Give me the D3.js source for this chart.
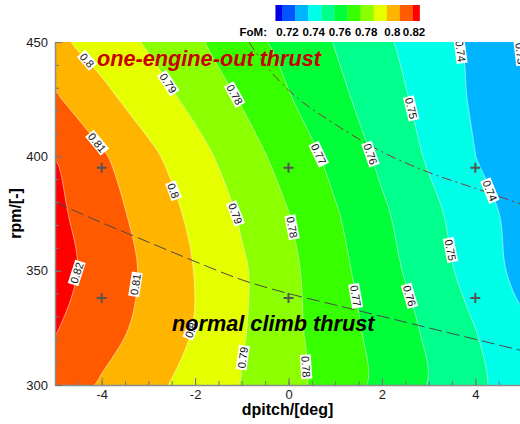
<!DOCTYPE html>
<html>
<head>
<meta charset="utf-8">
<script src="https://cdn.jsdelivr.net/npm/d3@7"></script>
<style>
  html, body { margin: 0; padding: 0; background: #fff; }
  svg { display: block; font-family: "Liberation Sans", Arial, Helvetica, sans-serif; }
</style>
</head>
<body>
<svg id="chart" width="520" height="424"></svg>
<script>
// grid of the FoM field (rows = rpm, columns = dpitch)
const dpitch = [-5, -4, -3, -2, -1, 0, 1, 2, 3, 4, 5];
const rpm = [300, 325, 350, 375, 400, 425, 450];
const fom = [
  [0.8153, 0.8090, 0.8028, 0.7962, 0.7895, 0.7830, 0.7755, 0.7674, 0.7596, 0.7520, 0.7445],
  [0.8206, 0.8140, 0.8071, 0.7995, 0.7909, 0.7826, 0.7745, 0.7664, 0.7583, 0.7500, 0.7417],
  [0.8237, 0.8160, 0.8082, 0.7997, 0.7913, 0.7823, 0.7732, 0.7639, 0.7549, 0.7460, 0.7369],
  [0.8222, 0.8143, 0.8062, 0.7976, 0.7888, 0.7802, 0.7709, 0.7616, 0.7527, 0.7443, 0.7359],
  [0.8198, 0.8112, 0.8023, 0.7935, 0.7847, 0.7759, 0.7671, 0.7579, 0.7489, 0.7401, 0.7312],
  [0.8112, 0.8028, 0.7950, 0.7873, 0.7792, 0.7707, 0.7628, 0.7547, 0.7466, 0.7386, 0.7306],
  [0.8023, 0.7956, 0.7888, 0.7816, 0.7741, 0.7667, 0.7595, 0.7518, 0.7448, 0.7375, 0.7295]
];

const levels = [0.72, 0.73, 0.74, 0.75, 0.76, 0.77, 0.78, 0.79, 0.80, 0.81, 0.82];
const bandColors = ['#0000e6', '#0055ff', '#00b4ff', '#00ffe8', '#00ff8c', '#00ff38',
                    '#38ff00', '#8cff00', '#e6ff00', '#ffb400', '#ff5a00', '#ff0000'];
const legendTicks = [0.72, 0.74, 0.76, 0.78, 0.80, 0.82];

const xTicks = [-4, -2, 0, 2, 4];
const yTicks = [300, 350, 400, 450];

// design points (+)
const designDpitch = [-4, 0, 4, -4, 0, 4];
const designRpm = [395, 395, 395, 338, 338, 338];

// thrust lines
const climbDpitch = [-5, -4, -3, -2, -1, 0, 1, 2, 3, 4, 5];
const climbRpm = [380, 371, 362.5, 354, 346, 340, 335, 330, 325, 320, 315];
const engineOutDpitch = [-0.85, -0.5, 0, 1, 2, 3, 4, 5];
const engineOutRpm = [450, 440, 429, 414, 402, 393, 386, 379];

// contour labels: level and the rpm where the label sits on that contour
const labelLevels = [0.80, 0.79, 0.78, 0.81, 0.77, 0.76, 0.75, 0.74, 0.73,
                     0.80, 0.79, 0.78, 0.77, 0.76, 0.75, 0.74, 0.82, 0.81,
                     0.80, 0.79, 0.78];
const labelRpm = [442, 432, 427, 406, 401, 401, 421, 446, 445,
                  385, 375, 369, 339, 339, 359, 385, 349, 344,
                  324, 312, 308];

const svg = d3.select('#chart');
const plot = { left: 55, right: 522, top: 42, bottom: 385 };

const x = d3.scaleLinear().domain([-5, 5]).range([plot.left, plot.right]);
const y = d3.scaleLinear().domain([300, 450]).range([plot.bottom, plot.top]);

svg.append('defs').append('clipPath').attr('id', 'plotClip')
  .append('rect')
  .attr('x', plot.left).attr('y', plot.top)
  .attr('width', plot.right - plot.left).attr('height', plot.bottom - plot.top);

// contours
const nx = dpitch.length;
const ny = rpm.length;
const values = fom.flat();
const stepX = dpitch[1] - dpitch[0];
const stepY = rpm[1] - rpm[0];

// d3.contours puts sample i at grid coordinate i + 0.5
const toPx = ([cx, cy]) => [x(dpitch[0] + (cx - 0.5) * stepX), y(rpm[0] + (cy - 0.5) * stepY)];

const thresholds = [d3.min(values)].concat(levels);
const contours = d3.contours().size([nx, ny]).thresholds(thresholds)(values);

// smooth the marching-squares rings a little
const ringLine = d3.line().curve(d3.curveCatmullRomClosed.alpha(0.5));
const polyPath = (mp) => mp.coordinates
  .map((poly) => poly.map((ring) => ringLine(ring.slice(0, -1).map(toPx))).join(''))
  .join('');

const gPlot = svg.append('g').attr('clip-path', 'url(#plotClip)');

gPlot.selectAll('path.band')
  .data(contours)
  .join('path')
  .attr('class', 'band')
  .attr('d', polyPath)
  .attr('fill', (d, i) => bandColors[i])
  .attr('fill-rule', 'evenodd')
  .attr('stroke', (d, i) => (i === 0 ? 'none' : 'rgba(255,255,255,0.6)'))
  .attr('stroke-width', 0.8);

// thrust lines
const curve = d3.line()
  .x((d) => x(d[0]))
  .y((d) => y(d[1]))
  .curve(d3.curveMonotoneX);

gPlot.append('path')
  .datum(d3.zip(climbDpitch, climbRpm))
  .attr('d', curve)
  .attr('fill', 'none')
  .attr('stroke', '#4a4a4a')
  .attr('stroke-width', 1)
  .attr('stroke-dasharray', '13,5');

gPlot.append('path')
  .datum(d3.zip(engineOutDpitch, engineOutRpm))
  .attr('d', curve)
  .attr('fill', 'none')
  .attr('stroke', '#8a3a3a')
  .attr('stroke-width', 1)
  .attr('stroke-dasharray', '10,4,2,4');

// design points
gPlot.selectAll('path.pt')
  .data(d3.zip(designDpitch, designRpm))
  .join('path')
  .attr('class', 'pt')
  .attr('transform', (d) => `translate(${x(d[0])},${y(d[1])})`)
  .attr('d', 'M-5,0H5M0,-5V5')
  .attr('stroke', '#555')
  .attr('stroke-width', 2);

// contour labels
const fmt = (v) => String(+v.toFixed(2));

const findLabel = (level, r) => {
  const c = contours.find((d) => Math.abs(d.value - level) < 1e-9);
  if (!c) return null;
  const py = y(r);
  let best = null;
  c.coordinates.forEach((poly) => poly.forEach((ring) => {
    const pts = ring.map(toPx);
    for (let i = 1; i < pts.length; i++) {
      const [x0, y0] = pts[i - 1];
      const [x1, y1] = pts[i];
      if (y0 === y1 || (y0 - py) * (y1 - py) > 0) continue;
      const t = (py - y0) / (y1 - y0);
      const px = x0 + t * (x1 - x0);
      if (px < plot.left + 1 || px > plot.right + 6) continue;
      let a = Math.atan2(y1 - y0, x1 - x0) * 180 / Math.PI;
      if (a > 90) a -= 180;
      if (a <= -90) a += 180;
      if (a >= 89.5) a -= 180;
      if (!best) best = { px, py, a };
    }
  }));
  return best;
};

const labels = d3.zip(labelLevels, labelRpm)
  .map(([lv, r]) => ({ lv, pos: findLabel(lv, r) }))
  .filter((d) => d.pos);

const lab = gPlot.selectAll('g.clabel')
  .data(labels)
  .join('g')
  .attr('class', 'clabel')
  .attr('transform', (d) => `translate(${d.pos.px},${d.pos.py}) rotate(${d.pos.a})`);

lab.append('rect').attr('fill', '#fff');
lab.append('text')
  .attr('text-anchor', 'middle')
  .attr('dy', '0.36em')
  .attr('font-size', 11)
  .attr('fill', '#111')
  .text((d) => fmt(d.lv));
lab.each(function () {
  const g = d3.select(this);
  const w = g.select('text').node().getComputedTextLength() + 3;
  g.select('rect').attr('x', -w / 2).attr('y', -5.5).attr('width', w).attr('height', 11);
});

// annotations
gPlot.append('text')
  .attr('x', 97).attr('y', 66)
  .attr('font-size', 21.7).attr('font-weight', 'bold').attr('font-style', 'italic')
  .attr('fill', '#c80000')
  .text('one-engine-out thrust');

gPlot.append('text')
  .attr('x', 172).attr('y', 331)
  .attr('font-size', 21.7).attr('font-weight', 'bold').attr('font-style', 'italic')
  .attr('fill', '#000')
  .text('normal climb thrust');

// axes
const styleAxis = (g) => {
  g.attr('font-family', null).attr('font-size', 13);
  g.selectAll('.domain').attr('stroke', '#8c8c8c').attr('stroke-width', 1.5);
  g.selectAll('.tick line').attr('stroke', '#777');
  g.selectAll('.tick text').attr('fill', '#1a1a1a');
};

svg.append('g')
  .attr('transform', `translate(0,${plot.bottom})`)
  .call(d3.axisBottom(x).tickValues(d3.range(-5, 5.01, 0.5)).tickSize(-4).tickFormat(''))
  .call((g) => g.select('.domain').remove())
  .call(styleAxis);

svg.append('g')
  .attr('transform', `translate(${plot.left},0)`)
  .call(d3.axisLeft(y).tickValues(d3.range(300, 451, 10)).tickSize(-4).tickFormat(''))
  .call((g) => g.select('.domain').remove())
  .call(styleAxis);

svg.append('g')
  .attr('transform', `translate(0,${plot.bottom})`)
  .call(d3.axisBottom(x).tickValues(xTicks).tickSize(-7).tickSizeOuter(0).tickPadding(5)
    .tickFormat((d) => String(d)))
  .call(styleAxis);

svg.append('g')
  .attr('transform', `translate(${plot.left},0)`)
  .call(d3.axisLeft(y).tickValues(yTicks).tickSize(-7).tickSizeOuter(0).tickPadding(7)
    .tickFormat((d) => String(d)))
  .call(styleAxis);

svg.append('text')
  .attr('x', (plot.left + 522) / 2 - 1).attr('y', 415)
  .attr('text-anchor', 'middle')
  .attr('font-size', 16).attr('font-weight', 'bold')
  .text('dpitch/[deg]');

svg.append('text')
  .attr('transform', `translate(21,${(plot.top + plot.bottom) / 2}) rotate(-90)`)
  .attr('text-anchor', 'middle')
  .attr('font-size', 16).attr('font-weight', 'bold')
  .text('rpm/[-]');

// legend
const lvx = d3.scaleLinear().domain([levels[0], levels[levels.length - 1]]).range([282, 413]);
const half = (lvx(levels[1]) - lvx(levels[0])) / 2;
const legend = svg.append('g');

legend.selectAll('rect')
  .data(bandColors)
  .join('rect')
  .attr('x', (d, i) => (i === 0 ? lvx(levels[0]) - half : lvx(levels[i - 1])))
  .attr('width', (d, i) => (i === 0 || i === bandColors.length - 1 ? half : lvx(levels[i]) - lvx(levels[i - 1])) + 0.3)
  .attr('y', 5)
  .attr('height', 16)
  .attr('fill', (d) => d);

legend.selectAll('text.tick')
  .data(legendTicks)
  .join('text')
  .attr('class', 'tick')
  .attr('x', (d) => Math.min(lvx(d) + half - 1, 414))
  .attr('y', 36)
  .attr('text-anchor', 'middle')
  .attr('font-size', 11.5).attr('font-weight', 'bold')
  .text(fmt);

legend.append('text')
  .attr('x', 267).attr('y', 36)
  .attr('text-anchor', 'end')
  .attr('font-size', 11.5).attr('font-weight', 'bold')
  .text('FoM:');
</script>
</body>
</html>
